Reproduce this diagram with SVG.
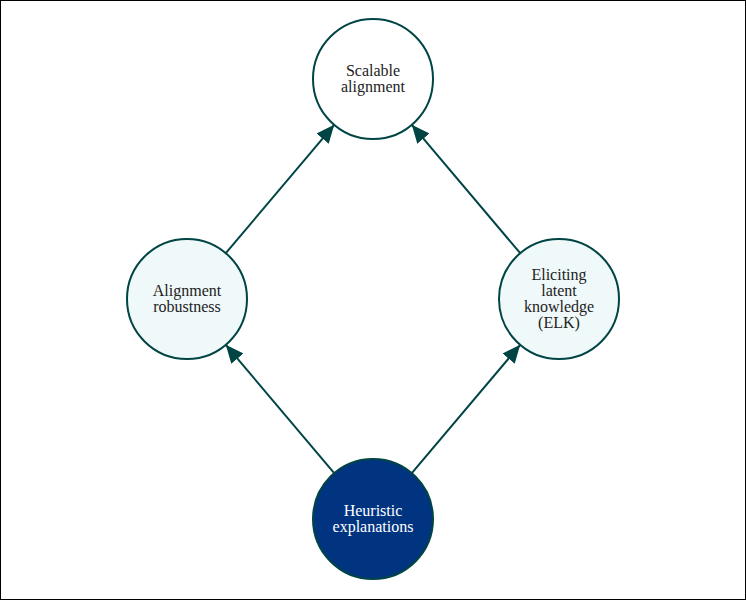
<svg xmlns="http://www.w3.org/2000/svg" width="746" height="600" viewBox="0 0 746 600">
<style>
.node{stroke:#004444;stroke-width:2}
.light{fill:#f0f9fa}
.white{fill:#ffffff}
.dark{fill:#003380}
text{font-family:"Liberation Serif","Times New Roman",serif;font-size:16px;text-anchor:middle;fill:#222}
.wt{fill:#ffffff}
.edge{stroke:#004444;stroke-width:2;fill:none;marker-end:url(#arr)}
</style>
<defs>
<marker id="arr" markerUnits="userSpaceOnUse" markerWidth="20" markerHeight="18" refX="18" refY="8" orient="auto" viewBox="0 0 20 16">
<path d="M0,0 L18,8 L0,16 Z" fill="#004444"/>
</marker>
</defs>
<rect x="0.5" y="0.5" width="745" height="599" fill="#ffffff" stroke="#000" stroke-width="1"/>
<g id="connectors">
<line class="edge" x1="225.8" y1="253.2" x2="334.2" y2="124.8"/>
<line class="edge" x1="520.2" y1="253.2" x2="411.8" y2="124.8"/>
<line class="edge" x1="334.2" y1="473.2" x2="225.8" y2="344.8"/>
<line class="edge" x1="411.8" y1="473.2" x2="520.2" y2="344.8"/>
</g>
<g id="scalable">
<circle class="node white" cx="373" cy="79" r="60"/>
<text x="373" y="76">Scalable</text>
<text x="373" y="92">alignment</text>
</g>
<g id="robustness">
<circle class="node light" cx="187" cy="299" r="60"/>
<text x="187" y="296">Alignment</text>
<text x="187" y="312">robustness</text>
</g>
<g id="elk">
<circle class="node light" cx="559" cy="299" r="60"/>
<text x="559" y="280">Eliciting</text>
<text x="559" y="296">latent</text>
<text x="559" y="312">knowledge</text>
<text x="559" y="328">(ELK)</text>
</g>
<g id="heuristic">
<circle class="node dark" cx="373" cy="519" r="60"/>
<text class="wt" x="373" y="516">Heuristic</text>
<text class="wt" x="373" y="532">explanations</text>
</g>
</svg>
